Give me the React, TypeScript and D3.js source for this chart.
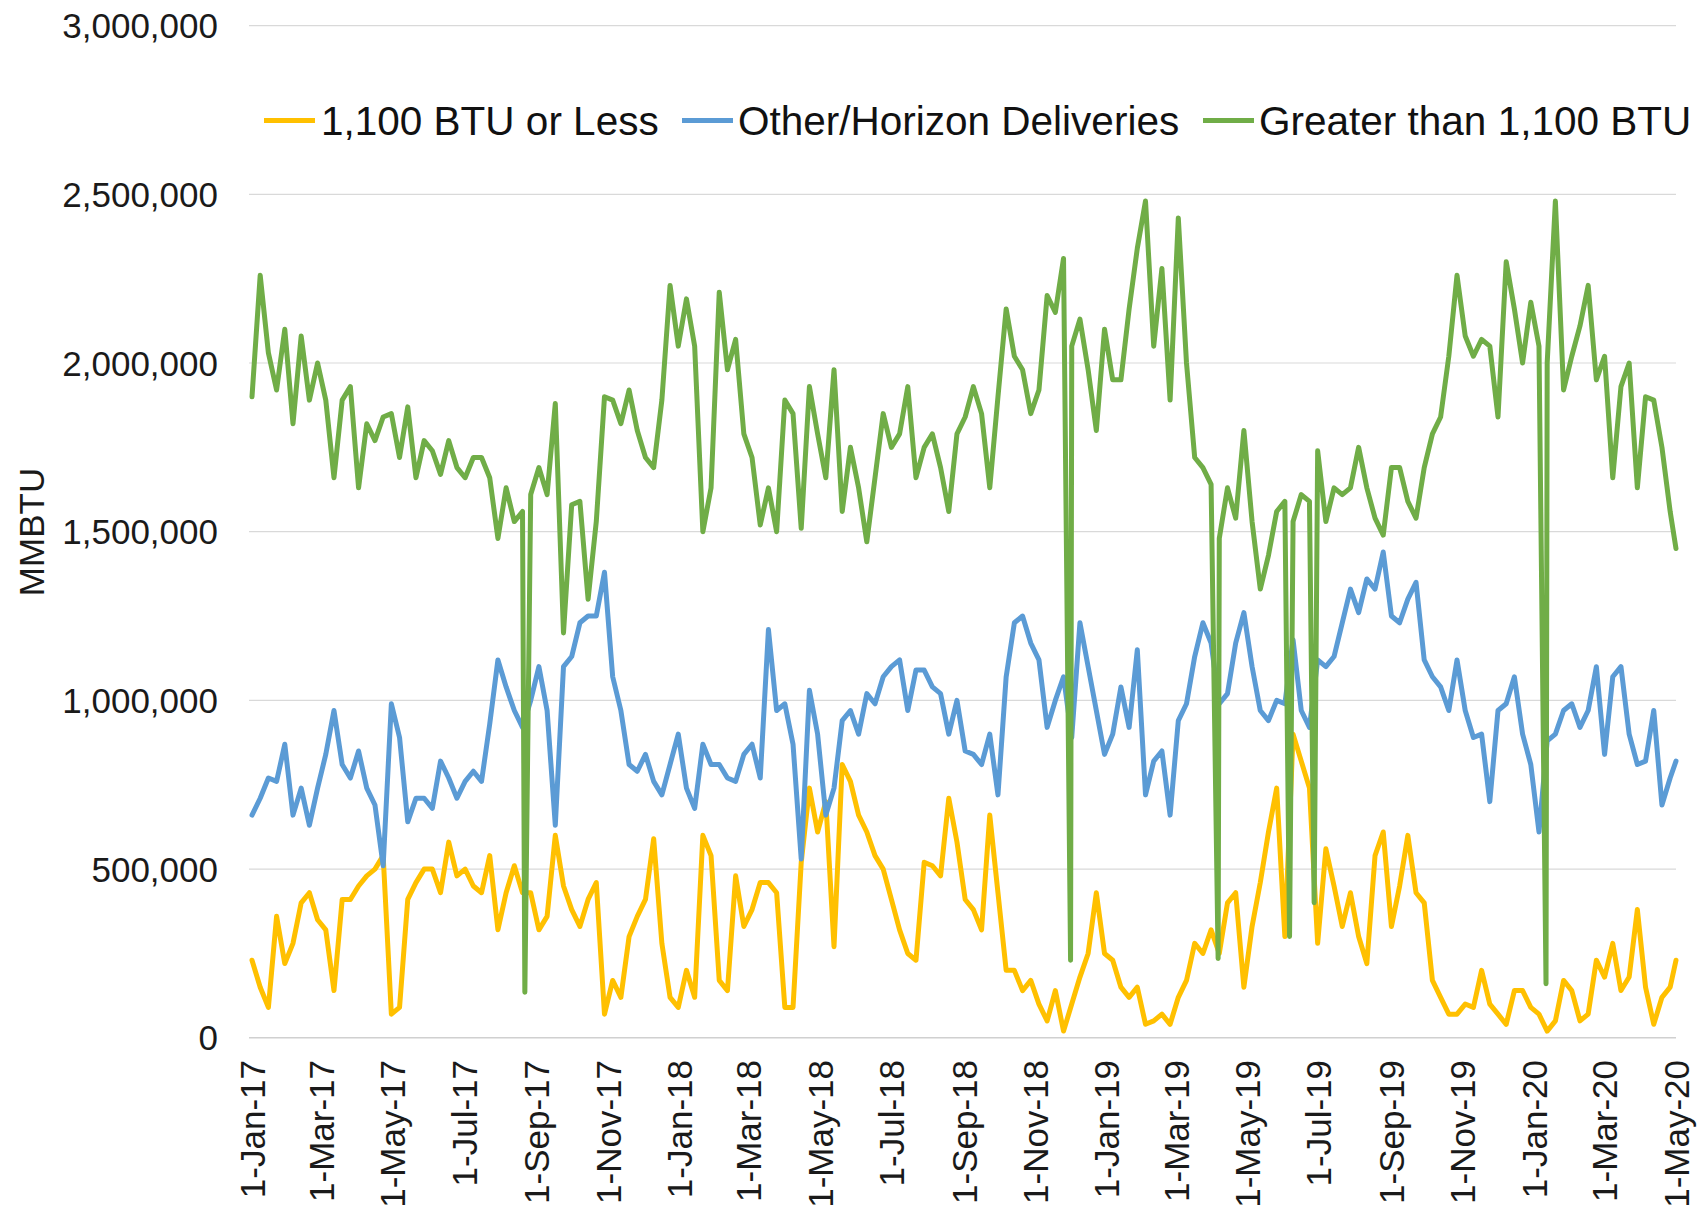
import { useMemo } from "react";
import * as d3 from "d3";

// weekly readings (thousand MMBTU), first on 1-Jan-17, every 7 days; last entry is 1-May-20
const startDate = "2017-01-01";
const finalDate = "2020-05-01";

const lowBtu = [
  230, 150, 90, 360, 220, 280, 400, 430, 350, 320,
  140, 410, 410, 450, 480, 500, 540, 70, 90, 410,
  460, 500, 500, 430, 580, 480, 500, 450, 430, 540,
  320, 430, 510, 430, 430, 320, 360, 600, 450, 380,
  330, 410, 460, 70, 170, 120, 300, 360, 410, 590,
  280, 120, 90, 200, 120, 600, 540, 170, 140, 480,
  330, 380, 460, 460, 430, 90, 90, 520, 740, 610,
  700, 270, 810, 760, 660, 610, 540, 500, 410, 320,
  250, 230, 520, 510, 480, 710, 580, 410, 380, 320,
  660, 430, 200, 200, 140, 170, 100, 50, 140, 20,
  100, 180, 250, 430, 250, 230, 150, 120, 150, 40,
  50, 70, 40, 120, 170, 280, 250, 320, 250, 400,
  430, 150, 330, 460, 610, 740, 300, 900, 820, 740,
  280, 560, 450, 330, 430, 300, 220, 540, 610, 330,
  450, 600, 430, 400, 170, 120, 70, 70, 100, 90,
  200, 100, 70, 40, 140, 140, 90, 70, 20, 50,
  170, 140, 50, 70, 230, 180, 280, 140, 180, 380,
  150, 40, 120, 150,
  230,
];

const horizon = [
  660, 710, 770, 760, 870, 660, 740, 630, 740, 840,
  970, 810, 770, 850, 740, 690, 510, 990, 890, 640,
  710, 710, 680, 820, 770, 710, 760, 790, 760, 930,
  1120, 1040, 970, 920, 1000, 1100, 970, 630, 1100, 1130,
  1230, 1250, 1250, 1380, 1070, 970, 810, 790, 840, 760,
  720, 810, 900, 740, 680, 870, 810, 810, 770, 760,
  840, 870, 770, 1210, 970, 990, 870, 530, 1030, 900,
  660, 740, 940, 970, 900, 1020, 990, 1070, 1100, 1120,
  970, 1090, 1090, 1040, 1020, 900, 1000, 850, 840, 810,
  900, 720, 1070, 1230, 1250, 1170, 1120, 920, 1000, 1070,
  890, 1230, 1100, 970, 840, 900, 1040, 920, 1150, 720,
  820, 850, 660, 940, 990, 1130, 1230, 1170, 990, 1020,
  1170, 1260, 1100, 970, 940, 1000, 990, 1180, 970, 920,
  1120, 1100, 1130, 1230, 1330, 1260, 1360, 1330, 1440, 1250,
  1230, 1300, 1350, 1120, 1070, 1040, 970, 1120, 970, 890,
  900, 700, 970, 990, 1070, 900, 810, 610, 880, 900,
  970, 990, 920, 970, 1100, 840, 1070, 1100, 900, 810,
  820, 970, 690, 770,
  820,
];

const highBtu = [
  1900, 2260, 2030, 1920, 2100, 1820, 2080, 1890, 2000, 1890,
  1660, 1890, 1930, 1630, 1820, 1770, 1840, 1850, 1720, 1870,
  1660, 1770, 1740, 1670, 1770, 1690, 1660, 1720, 1720, 1660,
  1480, 1630, 1530, 1560, 1610, 1690, 1610, 1880, 1200, 1580,
  1590, 1300, 1530, 1900, 1890, 1820, 1920, 1800, 1720, 1690,
  1890, 2230, 2050, 2190, 2050, 1500, 1630, 2210, 1980, 2070,
  1790, 1720, 1520, 1630, 1500, 1890, 1850, 1510, 1930, 1790,
  1660, 1980, 1560, 1750, 1630, 1470, 1660, 1850, 1750, 1790,
  1930, 1660, 1750, 1790, 1690, 1560, 1790, 1840, 1930, 1850,
  1630, 1900, 2160, 2020, 1980, 1850, 1920, 2200, 2150, 2310,
  2050, 2130, 1980, 1800, 2100, 1950, 1950, 2160, 2340, 2480,
  2050, 2280, 1890, 2430, 2000, 1720, 1690, 1640, 1480, 1630,
  1540, 1800, 1530, 1330, 1430, 1560, 1590, 1530, 1610, 1590,
  1740, 1530, 1630, 1610, 1630, 1750, 1630, 1540, 1490, 1690,
  1690, 1590, 1540, 1690, 1790, 1840, 2020, 2260, 2080, 2020,
  2070, 2050, 1840, 2300, 2160, 2000, 2180, 2050, 2000, 2480,
  1920, 2020, 2110, 2230, 1950, 2020, 1660, 1930, 2000, 1630,
  1900, 1890, 1750, 1560,
  1450,
];

// single-day drops in the "Greater than 1,100 BTU" series
const highBtuDipDates = ["2017-08-22", "2018-12-01", "2019-04-06", "2019-06-06", "2019-06-27", "2020-01-11"];
const highBtuDipValues = [135, 230, 235, 300, 400, 160];

const tickDates = [
  "2017-01-01", "2017-03-01", "2017-05-01", "2017-07-01", "2017-09-01", "2017-11-01",
  "2018-01-01", "2018-03-01", "2018-05-01", "2018-07-01", "2018-09-01", "2018-11-01",
  "2019-01-01", "2019-03-01", "2019-05-01", "2019-07-01", "2019-09-01", "2019-11-01",
  "2020-01-01", "2020-03-01", "2020-05-01",
];
const yTicks = [0, 500000, 1000000, 1500000, 2000000, 2500000, 3000000];

const seriesNames = ["1,100 BTU or Less", "Other/Horizon Deliveries", "Greater than 1,100 BTU"];
const seriesColors = ["#FFC000", "#5B9BD5", "#70AD47"];

type Pt = { date: Date; value: number };

const parse = d3.utcParse("%Y-%m-%d");
const fmtTick = d3.utcFormat("%-d-%b-%y");
const fmtNum = d3.format(",");

function toPoints(vals: number[]): Pt[] {
  const start = parse(startDate)!;
  return vals.map((v, i) => ({
    date: i < vals.length - 1 ? d3.utcDay.offset(start, 7 * i) : parse(finalDate)!,
    value: v * 1000,
  }));
}

const W = 1703;
const H = 1208;
const FONT = "'Liberation Sans', Arial, sans-serif";

export default function App() {
  const series = useMemo(() => {
    const green = toPoints(highBtu).concat(
      highBtuDipDates.map((d, i) => ({ date: parse(d)!, value: highBtuDipValues[i] * 1000 }))
    );
    green.sort((a, b) => +a.date - +b.date);
    return [toPoints(lowBtu), toPoints(horizon), green];
  }, []);

  const x = d3
    .scaleUtc()
    .domain([parse(startDate)!, parse(finalDate)!])
    .range([252, 1676]);
  const y = d3.scaleLinear().domain([0, 3000000]).range([1037.8, 25.6]);

  const line = d3
    .line<Pt>()
    .x((d) => x(d.date))
    .y((d) => y(d.value));

  const legendPos = [
    { x1: 264, x2: 315, tx: 321 },
    { x1: 682, x2: 733, tx: 738 },
    { x1: 1203, x2: 1254, tx: 1259 },
  ];

  return (
    <div style={{ position: "absolute", left: 0, top: 0 }}>
      <svg width={W} height={H} style={{ display: "block", background: "#fff" }} fontFamily={FONT}>
        {yTicks.map((t) => (
          <g key={t}>
            <line
              x1={249}
              x2={1676}
              y1={y(t)}
              y2={y(t)}
              stroke={t === 0 ? "#d0d0d0" : "#d9d9d9"}
              strokeWidth={t === 0 ? 1.5 : 1.2}
            />
            <text x={218} y={y(t)} dy="0.36em" textAnchor="end" fontSize={35} fill="#1a1a1a">
              {fmtNum(t)}
            </text>
          </g>
        ))}

        {tickDates.map((d) => {
          const dt = parse(d)!;
          return (
            <text
              key={d}
              transform={`translate(${x(dt)},1060) rotate(-90)`}
              dy="0.36em"
              textAnchor="end"
              fontSize={35}
              fill="#1a1a1a"
            >
              {fmtTick(dt)}
            </text>
          );
        })}

        <text
          transform="translate(31,532) rotate(-90)"
          dy="0.36em"
          textAnchor="middle"
          fontSize={35}
          fill="#1a1a1a"
        >
          MMBTU
        </text>

        {series.map((pts, i) => (
          <path
            key={seriesNames[i]}
            d={line(pts) ?? ""}
            fill="none"
            stroke={seriesColors[i]}
            strokeWidth={5}
            strokeLinejoin="round"
            strokeLinecap="round"
          />
        ))}

        {seriesNames.map((name, i) => (
          <g key={name}>
            <line
              x1={legendPos[i].x1}
              x2={legendPos[i].x2}
              y1={120.5}
              y2={120.5}
              stroke={seriesColors[i]}
              strokeWidth={5}
            />
            <text x={legendPos[i].tx} y={120.5} dy="0.36em" fontSize={40.5} fill="#111">
              {name}
            </text>
          </g>
        ))}
      </svg>
    </div>
  );
}
